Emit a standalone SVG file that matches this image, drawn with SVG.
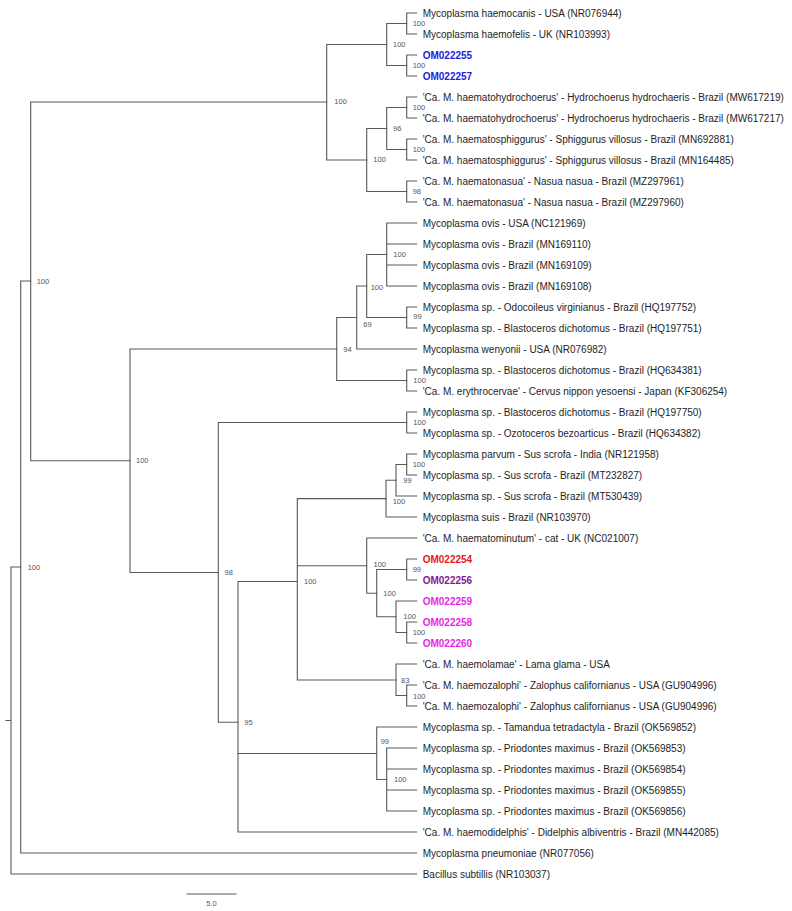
<svg xmlns="http://www.w3.org/2000/svg" width="792" height="911" viewBox="0 0 792 911">
<style>
.e{fill:none;stroke:#5a5a5a;stroke-width:1.1;stroke-linecap:square}
.t{font-family:"Liberation Sans",Arial,sans-serif;font-size:10px;fill:#1e1e1e}
.b{font-family:"Liberation Sans",Arial,sans-serif;font-size:10px;font-weight:bold}
.blue{fill:#2222dd}.red{fill:#e8181c}.pur{fill:#86198f}.mag{fill:#ea1fea}
.n{font-family:"Liberation Sans",Arial,sans-serif;font-size:7.5px;fill:#555}
</style>
<rect width="792" height="911" fill="#fff"/>
<g id="connectors">
<path class="e" d="M6,720.5H11M11,567V874M11,567H20.7M11,874H416.7"/>
<path class="e" d="M20.7,281V853M20.7,281H30.7M20.7,853H416.7"/>
<path class="e" d="M30.7,102V460.7M30.7,102H326.7M30.7,460.7H130"/>
<path class="e" d="M326.7,44.5V160M326.7,44.5H386.7M326.7,160H366.7"/>
<path class="e" d="M386.7,23.5V65.5M386.7,23.5H406.7M386.7,65.5H406.7"/>
<path class="e" d="M406.7,13V34M406.7,13H416.7M406.7,34H416.7"/>
<path class="e" d="M406.7,55V76M406.7,55H416.7M406.7,76H416.7"/>
<path class="e" d="M366.7,128.5V191.5M366.7,128.5H386.7M366.7,191.5H406.7"/>
<path class="e" d="M386.7,107.5V149.5M386.7,107.5H406.7M386.7,149.5H406.7"/>
<path class="e" d="M406.7,97V118M406.7,97H416.7M406.7,118H416.7"/>
<path class="e" d="M406.7,139V160M406.7,139H416.7M406.7,160H416.7"/>
<path class="e" d="M406.7,181V202M406.7,181H416.7M406.7,202H416.7"/>
<path class="e" d="M130,349V572.5M130,349H336.7M130,572.5H218.3"/>
<path class="e" d="M336.7,317.5V380.5M336.7,317.5H356.7M336.7,380.5H406.7"/>
<path class="e" d="M356.7,286V349M356.7,286H366.7M356.7,349H416.7"/>
<path class="e" d="M366.7,254.5V317.5M366.7,254.5H386.7M366.7,317.5H406.7"/>
<path class="e" d="M386.7,223V286M386.7,223H416.7M386.7,244H416.7M386.7,265H416.7M386.7,286H416.7"/>
<path class="e" d="M406.7,307V328M406.7,307H416.7M406.7,328H416.7"/>
<path class="e" d="M406.7,370V391M406.7,370H416.7M406.7,391H416.7"/>
<path class="e" d="M218.3,422.5V722.3M218.3,422.5H406.7M218.3,722.3H238"/>
<path class="e" d="M406.7,412V433M406.7,412H416.7M406.7,433H416.7"/>
<path class="e" d="M238,581.5V832M238,581.5H297.3M238,753.5H376.7M238,832H416.7"/>
<path class="e" d="M297.3,498.6V680M297.3,498.6H386M297.3,565.8H366.7M297.3,680H396"/>
<path class="e" d="M386,480.2V517M386,480.2H396M386,517H416.7"/>
<path class="e" d="M396,464.5V496M396,464.5H406.7M396,496H416.7"/>
<path class="e" d="M406.7,454V475M406.7,454H416.7M406.7,475H416.7"/>
<path class="e" d="M366.7,538V593.2M366.7,538H416.7M366.7,593.2H376.7"/>
<path class="e" d="M376.7,569.5V616.8M376.7,569.5H406.7M376.7,616.8H396"/>
<path class="e" d="M406.7,559V580M406.7,559H416.7M406.7,580H416.7"/>
<path class="e" d="M396,601V632.5M396,601H416.7M396,632.5H406.7"/>
<path class="e" d="M406.7,622V643M406.7,622H416.7M406.7,643H416.7"/>
<path class="e" d="M396,664V695.5M396,664H416.7M396,695.5H406.7"/>
<path class="e" d="M406.7,685V706M406.7,685H416.7M406.7,706H416.7"/>
<path class="e" d="M376.7,727V779.5M376.7,727H416.7M376.7,779.5H386.7"/>
<path class="e" d="M386.7,748V811M386.7,748H416.7M386.7,769H416.7M386.7,790H416.7M386.7,811H416.7"/>
</g>
<g id="support-labels">
<g id="n1"><text class="n" x="27.7" y="569.7">100</text></g>
<g id="n2"><text class="n" x="36.7" y="283.7">100</text></g>
<g id="nA"><text class="n" x="334.3" y="104.4">100</text></g>
<g id="nB"><text class="n" x="393" y="46.7">100</text></g>
<g id="nP1"><text class="n" x="412.7" y="25.7">100</text></g>
<g id="nP2"><text class="n" x="412.7" y="67.7">100</text></g>
<g id="nD"><text class="n" x="393" y="130.7">96</text></g>
<g id="nC"><text class="n" x="373.3" y="162">100</text></g>
<g id="nP3"><text class="n" x="412.7" y="109.7">100</text></g>
<g id="nP4"><text class="n" x="412.7" y="151.7">100</text></g>
<g id="nP5"><text class="n" x="412.7" y="194">98</text></g>
<g id="nOvis"><text class="n" x="393.3" y="256.7">100</text></g>
<g id="nN100a"><text class="n" x="370.7" y="290">100</text></g>
<g id="nP6"><text class="n" x="413.3" y="319.4">99</text></g>
<g id="nN69"><text class="n" x="363.3" y="326.7">69</text></g>
<g id="nN94"><text class="n" x="343.3" y="351.7">94</text></g>
<g id="nP7"><text class="n" x="413.3" y="383.4">100</text></g>
<g id="nP8"><text class="n" x="413.3" y="425.4">100</text></g>
<g id="nN130"><text class="n" x="136" y="463.4">100</text></g>
<g id="nP9"><text class="n" x="412.7" y="467.4">100</text></g>
<g id="nN99b"><text class="n" x="403.3" y="483.4">99</text></g>
<g id="nSus"><text class="n" x="392.7" y="504.2">100</text></g>
<g id="nMin"><text class="n" x="373.5" y="566.7">100</text></g>
<g id="nP10"><text class="n" x="412.7" y="572">99</text></g>
<g id="nN98"><text class="n" x="224.5" y="575.2">98</text></g>
<g id="nN100b"><text class="n" x="304" y="584.4">100</text></g>
<g id="nM2"><text class="n" x="383.3" y="596">100</text></g>
<g id="nM3"><text class="n" x="403.3" y="619.4">100</text></g>
<g id="nP11"><text class="n" x="412.7" y="635.4">100</text></g>
<g id="nLam"><text class="n" x="401" y="682.7">83</text></g>
<g id="nP12"><text class="n" x="413" y="698.7">100</text></g>
<g id="nN95"><text class="n" x="244.3" y="725">95</text></g>
<g id="nN99"><text class="n" x="380.7" y="744.4">99</text></g>
<g id="nPrio"><text class="n" x="394" y="782.2">100</text></g>
</g>
<g id="leaves">
<g id="L01"><text class="t" x="422.7" y="16.6">Mycoplasma haemocanis - USA (NR076944)</text></g>
<g id="L02"><text class="t" x="422.7" y="37.6">Mycoplasma haemofelis - UK (NR103993)</text></g>
<g id="L03"><text class="b blue" x="422.7" y="58.6">OM022255</text></g>
<g id="L04"><text class="b blue" x="422.7" y="79.6">OM022257</text></g>
<g id="L05"><text class="t" x="422.7" y="100.6">'Ca. M. haematohydrochoerus' - Hydrochoerus hydrochaeris - Brazil (MW617219)</text></g>
<g id="L06"><text class="t" x="422.7" y="121.6">'Ca. M. haematohydrochoerus' - Hydrochoerus hydrochaeris - Brazil (MW617217)</text></g>
<g id="L07"><text class="t" x="422.7" y="142.6">'Ca. M. haematosphiggurus' - Sphiggurus villosus - Brazil (MN692881)</text></g>
<g id="L08"><text class="t" x="422.7" y="163.6">'Ca. M. haematosphiggurus' - Sphiggurus villosus - Brazil (MN164485)</text></g>
<g id="L09"><text class="t" x="422.7" y="184.6">'Ca. M. haematonasua' - Nasua nasua - Brazil (MZ297961)</text></g>
<g id="L10"><text class="t" x="422.7" y="205.6">'Ca. M. haematonasua' - Nasua nasua - Brazil (MZ297960)</text></g>
<g id="L11"><text class="t" x="422.7" y="226.6">Mycoplasma ovis - USA (NC121969)</text></g>
<g id="L12"><text class="t" x="422.7" y="247.6">Mycoplasma ovis - Brazil (MN169110)</text></g>
<g id="L13"><text class="t" x="422.7" y="268.6">Mycoplasma ovis - Brazil (MN169109)</text></g>
<g id="L14"><text class="t" x="422.7" y="289.6">Mycoplasma ovis - Brazil (MN169108)</text></g>
<g id="L15"><text class="t" x="422.7" y="310.6">Mycoplasma sp. - Odocoileus virginianus - Brazil (HQ197752)</text></g>
<g id="L16"><text class="t" x="422.7" y="331.6">Mycoplasma sp. - Blastoceros dichotomus - Brazil (HQ197751)</text></g>
<g id="L17"><text class="t" x="422.7" y="352.6">Mycoplasma wenyonii - USA (NR076982)</text></g>
<g id="L18"><text class="t" x="422.7" y="373.6">Mycoplasma sp. - Blastoceros dichotomus - Brazil (HQ634381)</text></g>
<g id="L19"><text class="t" x="422.7" y="394.6">'Ca. M. erythrocervae' - Cervus nippon yesoensi - Japan (KF306254)</text></g>
<g id="L20"><text class="t" x="422.7" y="415.6">Mycoplasma sp. - Blastoceros dichotomus - Brazil (HQ197750)</text></g>
<g id="L21"><text class="t" x="422.7" y="436.6">Mycoplasma sp. - Ozotoceros bezoarticus - Brazil (HQ634382)</text></g>
<g id="L22"><text class="t" x="422.7" y="457.6">Mycoplasma parvum - Sus scrofa - India (NR121958)</text></g>
<g id="L23"><text class="t" x="422.7" y="478.6">Mycoplasma sp. - Sus scrofa - Brazil (MT232827)</text></g>
<g id="L24"><text class="t" x="422.7" y="499.6">Mycoplasma sp. - Sus scrofa - Brazil (MT530439)</text></g>
<g id="L25"><text class="t" x="422.7" y="520.6">Mycoplasma suis - Brazil (NR103970)</text></g>
<g id="L26"><text class="t" x="422.7" y="541.6">'Ca. M. haematominutum' - cat - UK (NC021007)</text></g>
<g id="L27"><text class="b red" x="422.7" y="562.6">OM022254</text></g>
<g id="L28"><text class="b pur" x="422.7" y="583.6">OM022256</text></g>
<g id="L29"><text class="b mag" x="422.7" y="604.6">OM022259</text></g>
<g id="L30"><text class="b mag" x="422.7" y="625.6">OM022258</text></g>
<g id="L31"><text class="b mag" x="422.7" y="646.6">OM022260</text></g>
<g id="L32"><text class="t" x="422.7" y="667.6">'Ca. M. haemolamae' - Lama glama - USA</text></g>
<g id="L33"><text class="t" x="422.7" y="688.6">'Ca. M. haemozalophi' - Zalophus californianus - USA (GU904996)</text></g>
<g id="L34"><text class="t" x="422.7" y="709.6">'Ca. M. haemozalophi' - Zalophus californianus - USA (GU904996)</text></g>
<g id="L35"><text class="t" x="422.7" y="730.6">Mycoplasma sp. - Tamandua tetradactyla - Brazil (OK569852)</text></g>
<g id="L36"><text class="t" x="422.7" y="751.6">Mycoplasma sp. - Priodontes maximus - Brazil (OK569853)</text></g>
<g id="L37"><text class="t" x="422.7" y="772.6">Mycoplasma sp. - Priodontes maximus - Brazil (OK569854)</text></g>
<g id="L38"><text class="t" x="422.7" y="793.6">Mycoplasma sp. - Priodontes maximus - Brazil (OK569855)</text></g>
<g id="L39"><text class="t" x="422.7" y="814.6">Mycoplasma sp. - Priodontes maximus - Brazil (OK569856)</text></g>
<g id="L40"><text class="t" x="422.7" y="835.6">'Ca. M. haemodidelphis' - Didelphis albiventris - Brazil (MN442085)</text></g>
<g id="L41"><text class="t" x="422.7" y="856.6">Mycoplasma pneumoniae (NR077056)</text></g>
<g id="L42"><text class="t" x="422.7" y="877.6">Bacillus subtillis (NR103037)</text></g>
</g>
<g id="scale">
<path class="e" d="M187,894H236"/>
<text class="n" x="211.5" y="906" text-anchor="middle">5.0</text>
</g>
</svg>
